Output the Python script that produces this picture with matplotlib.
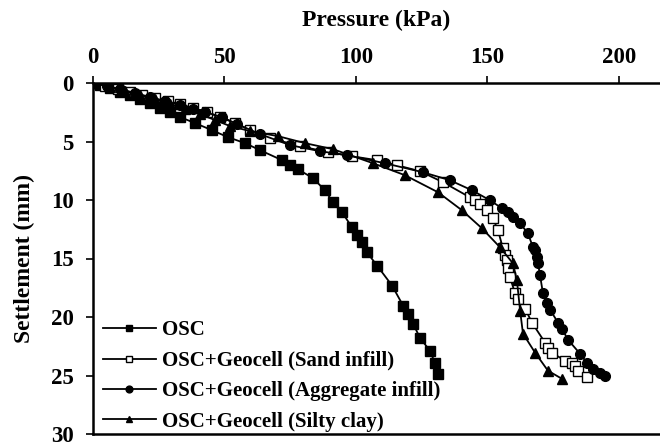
import matplotlib
matplotlib.use("Agg")
import matplotlib.pyplot as plt

osc_p = [0, 2.7, 6.5, 10.3, 14.1, 17.9, 21.7, 25.5, 29.3, 33.1, 38.8, 45.2, 51.3, 57.8, 63.5, 71.9, 74.9, 77.9,
         83.7, 88.2, 91.3, 94.7, 98.5, 100.4, 102.3, 104.2, 108.0, 113.7, 117.9, 119.8, 121.7, 124.3, 128.1, 130.0, 131.2]
osc_s = [0, 0.17, 0.43, 0.77, 1.03, 1.37, 1.71, 2.14, 2.48, 2.91, 3.43, 4.03, 4.63, 5.14, 5.74, 6.60, 7.03, 7.37,
         8.14, 9.17, 10.2, 11.05, 12.34, 13.02, 13.62, 14.48, 15.6, 17.31, 19.02, 19.71, 20.57, 21.77, 22.88, 23.91, 24.85]

sand_p = [0, 4.6, 9.5, 14.1, 18.6, 23.6, 28.5, 33.1, 38.0, 43.3, 48.3, 54.0, 59.7, 67.3, 78.7, 89.4, 98.5, 108.0,
          115.6, 124.3, 133.1, 143.3, 145.2, 147.1, 149.8, 152.1, 154.0, 155.9, 156.7, 157.4, 157.8, 158.6, 160.5,
          161.6, 164.3, 166.9, 171.9, 173.0, 174.5, 179.5, 182.1, 183.3, 184.4, 187.8]
sand_s = [0, 0.26, 0.51, 0.77, 1.03, 1.29, 1.54, 1.80, 2.14, 2.49, 2.91, 3.43, 4.03, 4.71, 5.40, 5.91, 6.26, 6.60,
          7.03, 7.54, 8.48, 9.77, 10.03, 10.37, 10.88, 11.57, 12.60, 14.14, 14.74, 15.17, 15.77, 16.62, 17.99,
          18.42, 19.28, 20.48, 22.19, 22.62, 23.05, 23.74, 23.91, 24.16, 24.59, 25.10]

agg_p = [0, 5.3, 10.3, 16.0, 21.7, 27.4, 33.1, 38.0, 42.6, 49.0, 54.8, 63.5, 74.9, 86.3, 96.6, 111.0, 125.5, 135.7,
         144.1, 151.0, 155.5, 157.8, 159.7, 162.4, 165.4, 167.3, 168.1, 168.8, 169.2, 170.0, 171.1, 172.6, 173.8,
         176.8, 178.3, 180.6, 185.2, 187.8, 190.1, 192.8, 194.7]
agg_s = [0, 0.26, 0.51, 0.86, 1.20, 1.54, 1.89, 2.23, 2.49, 2.91, 3.51, 4.37, 5.31, 5.83, 6.17, 6.86, 7.63, 8.31,
         9.17, 10.03, 10.71, 11.05, 11.48, 12.00, 12.85, 14.05, 14.31, 14.91, 15.42, 16.45, 17.99, 18.77, 19.37,
         20.48, 20.99, 21.94, 23.14, 23.91, 24.42, 24.76, 25.02]

clay_p = [0, 6.5, 12.2, 17.9, 23.6, 29.3, 35.0, 40.7, 46.4, 52.1, 59.7, 70.3, 80.6, 91.3, 106.5, 118.6, 131.2,
          140.3, 147.9, 154.8, 159.7, 161.2, 162.4, 163.5, 168.1, 173.0, 178.3]
clay_s = [0, 0.34, 0.69, 1.03, 1.37, 1.80, 2.23, 2.66, 3.17, 3.68, 4.11, 4.54, 5.14, 5.66, 6.86, 7.88, 9.34,
          10.88, 12.42, 14.05, 15.42, 16.88, 19.45, 21.42, 23.05, 24.59, 25.28]

labels = ["OSC", "OSC+Geocell (Sand infill)", "OSC+Geocell (Aggregate infill)", "OSC+Geocell (Silty clay)"]
x_ticks = [0, 50, 100, 150, 200]
y_ticks = [0, 5, 10, 15, 20, 25, 30]

plt.rcParams['font.family'] = ['Liberation Serif', 'DejaVu Serif']
plt.rcParams['font.weight'] = 'bold'

fig = plt.figure(figsize=(6.6, 4.46), dpi=100)
ax = fig.add_axes([93/660, 1 - 434/446, 1 - 93/660, (434 - 83)/446])

lw = 1.3
ax.plot(osc_p, osc_s, color='black', lw=lw, marker='s', ms=7, mfc='black', mec='black', label=labels[0])
ax.plot(sand_p, sand_s, color='black', lw=lw, marker='s', ms=7, mfc='white', mec='black', mew=1.0, label=labels[1])
ax.plot(agg_p, agg_s, color='black', lw=lw, marker='o', ms=7, mfc='black', mec='black', label=labels[2])
ax.plot(clay_p, clay_s, color='black', lw=lw, marker='^', ms=7, mfc='black', mec='black', label=labels[3])

ax.set_xlim(0, 215.6)
ax.set_ylim(30, 0)
ax.xaxis.tick_top()
ax.xaxis.set_label_position('top')
ax.set_xticks(x_ticks)
ax.set_yticks(y_ticks)
ax.tick_params(axis='both', direction='out', length=5, width=1.2, labelsize=16.5)
ax.tick_params(axis='x', pad=6)
ax.tick_params(axis='y', pad=9)
for lab in ax.get_xticklabels() + ax.get_yticklabels():
    lab.set_fontweight('bold')
ax.set_xlabel("Pressure (kPa)", fontsize=17, fontweight='bold', labelpad=15)
ax.set_ylabel("Settlement (mm)", fontsize=17, fontweight='bold', labelpad=11)
for s in ['top', 'left', 'bottom']:
    ax.spines[s].set_linewidth(1.8)
ax.spines['right'].set_visible(False)

leg = ax.legend(loc='lower left', bbox_to_anchor=(0.0, -0.023), frameon=False, markerscale=0.7,
                handlelength=2.5, handletextpad=0.3, labelspacing=0.5, borderaxespad=0.2, borderpad=0.3,
                prop={'weight': 'bold', 'size': 15})

fig.savefig("out.png", dpi=100)
